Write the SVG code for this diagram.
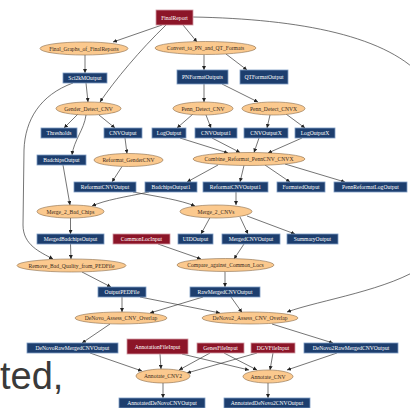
<svg xmlns="http://www.w3.org/2000/svg" width="410" height="408" viewBox="0 0 410 408">
<style>
.b{fill:#1d3e6e;stroke:#7d9cc4;stroke-width:0.8}
.r{fill:#8c1528;stroke:#d19aa3;stroke-width:0.8}
.e{fill:#fbc98e;stroke:#8a6c4a;stroke-width:0.6}
.tb{font-family:"Liberation Serif",serif;font-size:5.6px;fill:#fff;text-anchor:middle}
.te{font-family:"Liberation Serif",serif;font-size:5.6px;fill:#3a2a1a;text-anchor:middle}
.c path{fill:none;stroke:#3a3a3a;stroke-width:0.7;marker-end:url(#a)}
</style>
<defs>
<marker id="a" markerUnits="userSpaceOnUse" markerWidth="4" markerHeight="4" refX="4" refY="2" orient="auto">
<path d="M0,0 L4,2 L0,4 z" fill="#222"/>
</marker>
</defs>
<rect width="410" height="408" fill="#fff"/>
<g class="c" id="connectors">
<path d="M162 25 L113 42"/>
<path d="M183 25 L197 42"/>
<path d="M166 25 C140 50,115 80,100 102"/>
<path d="M193 17 C300 19,390 36,425 80 C445 140,445 230,425 265 C390 290,320 300,287 312"/>
<path d="M85 55 L85 73"/>
<path d="M86 83 L88 102"/>
<path d="M73 83 C40 95,25 120,24 150 L23 225 C23 245,40 252,53 259"/>
<path d="M204 55 L204 70"/>
<path d="M226 54 L247 70"/>
<path d="M204 84 L204 102"/>
<path d="M222 84 L258 102"/>
<path d="M78 114 L64 128"/>
<path d="M99 115 L115 128"/>
<path d="M86 115 C84 130,74 140,72 155"/>
<path d="M193 114 L177 128"/>
<path d="M206 115 L211 128"/>
<path d="M270 115 L267 128"/>
<path d="M286 114 L305 128"/>
<path d="M125 138 L127 153.5"/>
<path d="M122 166.5 L112 182"/>
<path d="M180 138 L228 153"/>
<path d="M212 138 L240 152.5"/>
<path d="M259 138 L254 152.5"/>
<path d="M302 138 L268 153"/>
<path d="M218 165 L187 182"/>
<path d="M244 165.5 L240 182"/>
<path d="M265 165 L290 182"/>
<path d="M285 164 L345 182"/>
<path d="M63 165 L70 205"/>
<path d="M149 192 C125 197,105 200,92 206"/>
<path d="M133 192 C160 197,180 200,195 206"/>
<path d="M236 192 L236 205"/>
<path d="M70.5 218 L70.5 234"/>
<path d="M70.5 244 L71 259"/>
<path d="M210 217.5 L201 234"/>
<path d="M240 217 L248 234"/>
<path d="M247 216 L295 234"/>
<path d="M158 244 L201 259"/>
<path d="M244 244 L234 259"/>
<path d="M82 272 L111 287"/>
<path d="M225 271.5 L225 287"/>
<path d="M122 297 L122 312"/>
<path d="M140 297 L220 313"/>
<path d="M203 297 L150 313"/>
<path d="M231 297 L242 312.5"/>
<path d="M110 324 L82 343"/>
<path d="M272 324 L333 343"/>
<path d="M90 353 L142 371"/>
<path d="M160 354 L161 369"/>
<path d="M182 354 L249 370"/>
<path d="M210 353 L179 370"/>
<path d="M224 353 L257 370"/>
<path d="M257 353 L187 373"/>
<path d="M273 353 L270 370"/>
<path d="M337 353 L287 370"/>
<path d="M163 383 L163 398"/>
<path d="M268 383 L268 398"/>
</g>
<g id="FinalReport"><rect class="r" x="156" y="10" width="37" height="15"/><text class="tb" x="174.5" y="19.5">FinalReport</text></g>
<g id="Final_Graphs_of_FinalReports"><ellipse class="e" cx="84" cy="48.5" rx="44" ry="6.5"/><text class="te" x="84" y="50.5">Final_Graphs_of_FinalReports</text></g>
<g id="Convert_to_PN_and_QT_Formats"><ellipse class="e" cx="205.5" cy="48" rx="50.5" ry="6.5"/><text class="te" x="205.5" y="50">Convert_to_PN_and_QT_Formats</text></g>
<g id="Sci2kMOutput"><rect class="b" x="63" y="73" width="44" height="10"/><text class="tb" x="85" y="80">Sci2kMOutput</text></g>
<g id="PNFormatOutputs"><rect class="b" x="177" y="70" width="51" height="14"/><text class="tb" x="202.5" y="79">PNFormatOutputs</text></g>
<g id="QTFormatOutput"><rect class="b" x="240" y="70" width="48" height="14"/><text class="tb" x="264" y="79">QTFormatOutput</text></g>
<g id="Gender_Detect_CNV"><ellipse class="e" cx="88.5" cy="108.5" rx="32.5" ry="6.5"/><text class="te" x="88.5" y="110.5">Gender_Detect_CNV</text></g>
<g id="Penn_Detect_CNV"><ellipse class="e" cx="203" cy="108.5" rx="30" ry="6.5"/><text class="te" x="203" y="110.5">Penn_Detect_CNV</text></g>
<g id="Penn_Detect_CNVX"><ellipse class="e" cx="273.5" cy="108.5" rx="31.5" ry="6.5"/><text class="te" x="273.5" y="110.5">Penn_Detect_CNVX</text></g>
<g id="Thresholds"><rect class="b" x="41" y="128" width="36" height="10"/><text class="tb" x="59" y="135">Thresholds</text></g>
<g id="CNVOutput"><rect class="b" x="104" y="128" width="38" height="10"/><text class="tb" x="123" y="135">CNVOutput</text></g>
<g id="LogOutput"><rect class="b" x="152" y="128" width="34" height="10"/><text class="tb" x="169" y="135">LogOutput</text></g>
<g id="CNVOutput1"><rect class="b" x="195" y="128" width="42" height="10"/><text class="tb" x="216" y="135">CNVOutput1</text></g>
<g id="CNVOutputX"><rect class="b" x="244" y="128" width="44" height="10"/><text class="tb" x="266" y="135">CNVOutputX</text></g>
<g id="LogOutputX"><rect class="b" x="295" y="128" width="40" height="10"/><text class="tb" x="315" y="135">LogOutputX</text></g>
<g id="BadchipsOutput"><rect class="b" x="37" y="155" width="49" height="10"/><text class="tb" x="61.5" y="162">BadchipsOutput</text></g>
<g id="Reformat_GenderCNV"><ellipse class="e" cx="128.5" cy="160" rx="34.5" ry="6.5"/><text class="te" x="128.5" y="162">Reformat_GenderCNV</text></g>
<g id="Combine_Reformat_PennCNV_CNVX"><ellipse class="e" cx="249" cy="159" rx="56" ry="6.5"/><text class="te" x="249" y="161">Combine_Reformat_PennCNV_CNVX</text></g>
<g id="ReformatCNVOutput"><rect class="b" x="74" y="182" width="62" height="10"/><text class="tb" x="105" y="189">ReformatCNVOutput</text></g>
<g id="BadchipsOutput1"><rect class="b" x="145" y="182" width="52" height="10"/><text class="tb" x="171" y="189">BadchipsOutput1</text></g>
<g id="ReformatCNVOutput1"><rect class="b" x="203" y="182" width="65" height="10"/><text class="tb" x="235.5" y="189">ReformatCNVOutput1</text></g>
<g id="FormatedOutput"><rect class="b" x="277" y="182" width="48" height="10"/><text class="tb" x="301" y="189">FormatedOutput</text></g>
<g id="PennReformatLogOutput"><rect class="b" x="334" y="182" width="73" height="10"/><text class="tb" x="370.5" y="189">PennReformatLogOutput</text></g>
<g id="Merge_2_Bad_Chips"><ellipse class="e" cx="70.5" cy="211.5" rx="33.5" ry="6.5"/><text class="te" x="70.5" y="213.5">Merge_2_Bad_Chips</text></g>
<g id="Merge_2_CNVs"><ellipse class="e" cx="216" cy="211.5" rx="36" ry="6.5"/><text class="te" x="216" y="213.5">Merge_2_CNVs</text></g>
<g id="MergedBadchipsOutput"><rect class="b" x="37" y="234" width="67" height="10"/><text class="tb" x="70.5" y="241">MergedBadchipsOutput</text></g>
<g id="CommonLocInput"><rect class="r" x="113" y="234" width="57" height="10"/><text class="tb" x="141.5" y="241">CommonLocInput</text></g>
<g id="UIDOutput"><rect class="b" x="178" y="234" width="35" height="10"/><text class="tb" x="195.5" y="241">UIDOutput</text></g>
<g id="MergedCNVOutput"><rect class="b" x="222" y="234" width="58" height="10"/><text class="tb" x="251" y="241">MergedCNVOutput</text></g>
<g id="SummaryOutput"><rect class="b" x="287" y="234" width="51" height="10"/><text class="tb" x="312.5" y="241">SummaryOutput</text></g>
<g id="Remove_Bad_Quality_from_PEDFile"><ellipse class="e" cx="71.5" cy="265.5" rx="54.5" ry="6.5"/><text class="te" x="71.5" y="267.5">Remove_Bad_Quality_from_PEDFile</text></g>
<g id="Compare_against_Common_Locs"><ellipse class="e" cx="225.5" cy="265" rx="48.5" ry="6.5"/><text class="te" x="225.5" y="267">Compare_against_Common_Locs</text></g>
<g id="OutputPEDFile"><rect class="b" x="98" y="287" width="48" height="10"/><text class="tb" x="122" y="294">OutputPEDFile</text></g>
<g id="RawMergedCNVOutput"><rect class="b" x="190" y="287" width="70" height="10"/><text class="tb" x="225" y="294">RawMergedCNVOutput</text></g>
<g id="DeNovo_Assess_CNV_Overlap"><ellipse class="e" cx="121" cy="318" rx="46" ry="6"/><text class="te" x="121" y="320">DeNovo_Assess_CNV_Overlap</text></g>
<g id="DeNovo2_Assess_CNV_Overlap"><ellipse class="e" cx="250" cy="318" rx="48" ry="6"/><text class="te" x="250" y="320">DeNovo2_Assess_CNV_Overlap</text></g>
<g id="DeNovoRawMergedCNVOutput"><rect class="b" x="27" y="343" width="91" height="10"/><text class="tb" x="72.5" y="350">DeNovoRawMergedCNVOutput</text></g>
<g id="AnnotationFileInput"><rect class="r" x="127" y="339" width="61" height="15"/><text class="tb" x="157.5" y="348.5">AnnotationFileInput</text></g>
<g id="GenesFileInput"><rect class="r" x="197" y="343" width="47" height="10"/><text class="tb" x="220.5" y="350">GenesFileInput</text></g>
<g id="DGVFileInput"><rect class="r" x="251" y="343" width="44" height="10"/><text class="tb" x="273" y="350">DGVFileInput</text></g>
<g id="DeNovo2RawMergedCNVOutput"><rect class="b" x="304" y="343" width="94" height="10"/><text class="tb" x="351" y="350">DeNovo2RawMergedCNVOutput</text></g>
<g id="Annotate_CNV2"><ellipse class="e" cx="163" cy="376" rx="27" ry="7"/><text class="te" x="163" y="378">Annotate_CNV2</text></g>
<g id="Annotate_CNV"><ellipse class="e" cx="268" cy="376.5" rx="25" ry="6.5"/><text class="te" x="268" y="378.5">Annotate_CNV</text></g>
<g id="AnnotatedDeNovoCNVOutput"><rect class="b" x="119" y="398" width="86" height="10"/><text class="tb" x="162" y="405">AnnotatedDeNovoCNVOutput</text></g>
<g id="AnnotatedDeNovo2CNVOutput"><rect class="b" x="224" y="398" width="86" height="10"/><text class="tb" x="267" y="405">AnnotatedDeNovo2CNVOutput</text></g>
<text x="0" y="389" font-family="Liberation Sans, Arial, sans-serif" font-size="38" fill="#3a3a3a">ted,</text>
</svg>
